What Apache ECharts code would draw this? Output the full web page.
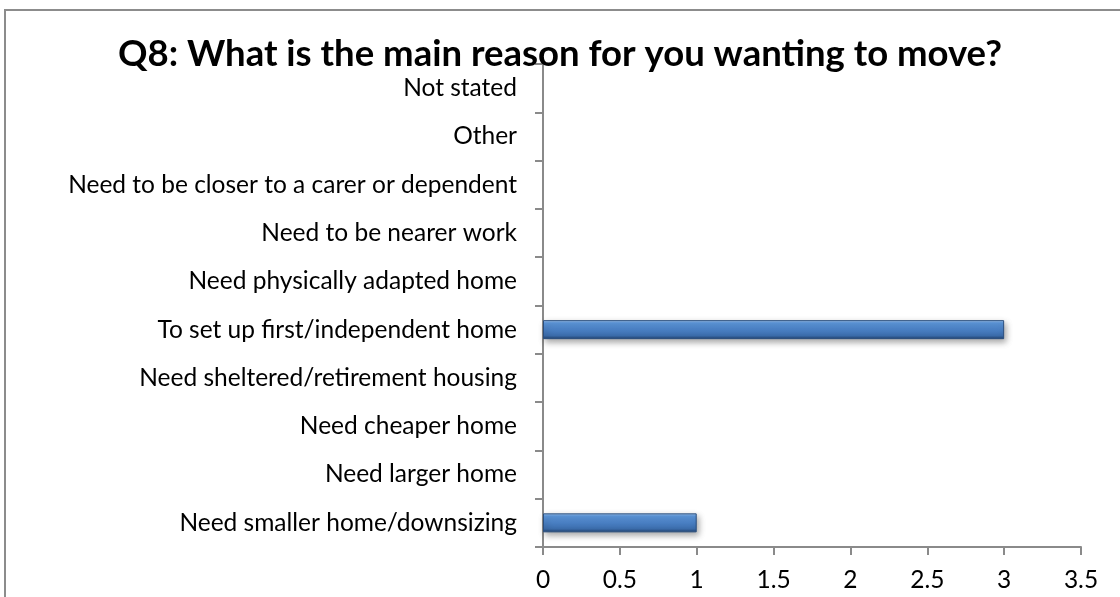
<!DOCTYPE html>
<html>
<head>
<meta charset="utf-8">
<script src="https://cdn.jsdelivr.net/npm/echarts@6/dist/echarts.min.js"></script>
<style>
  html, body { margin: 0; padding: 0; background: #fff; }
  #chart { width: 1120px; height: 597px; }
</style>
</head>
<body>
<div id="chart"></div>
<script>
// Reasons for wanting to move, listed bottom-to-top as they appear on the axis
const categories = [
  'Need smaller home/downsizing',
  'Need larger home',
  'Need cheaper home',
  'Need sheltered/retirement housing',
  'To set up first/independent home',
  'Need physically adapted home',
  'Need to be nearer work',
  'Need to be closer to a carer or dependent',
  'Other',
  'Not stated'
];
// Number of respondents giving each reason
const responses = [1, 0, 0, 0, 3, 0, 0, 0, 0, 0];
const titleText = 'Q8: What is the main reason for you wanting to move?';
const xTickLabels = ['0', '0.5', '1', '1.5', '2', '2.5', '3', '3.5'];

const FONT = 'Lato, "Open Sans", sans-serif';
const AXIS_GREY = '#8a8a8a';

// Bevelled blue fill for the bars
const barStyle = {
  color: new echarts.graphic.LinearGradient(0, 0, 0, 1, [
    { offset: 0, color: '#a9cbf2' },
    { offset: 0.14, color: '#5d97db' },
    { offset: 0.5, color: '#4a80c4' },
    { offset: 0.82, color: '#3b6cab' },
    { offset: 1, color: '#1f3f6a' }
  ]),
  borderColor: '#2a4e7e',
  borderWidth: 1,
  shadowColor: 'rgba(0,0,0,0.35)',
  shadowBlur: 6,
  shadowOffsetX: 2,
  shadowOffsetY: 3
};

// Empty categories get no outline or shadow, so nothing is drawn for them
const barData = responses.map((v) => ({
  value: v,
  itemStyle: v === 0 ? { borderWidth: 0, shadowBlur: 0, shadowOffsetX: 0, shadowOffsetY: 0, opacity: 0 } : {}
}));

const chart = echarts.init(document.getElementById('chart'), null, { renderer: 'canvas' });

chart.setOption({
  animation: false,
  backgroundColor: '#ffffff',
  title: {
    text: titleText,
    left: 'center',
    top: 31,
    textStyle: { fontFamily: FONT, fontSize: 36.5, fontWeight: 'bold', color: '#000' }
  },
  graphic: [{
    type: 'rect',
    shape: { x: 5, y: 10, width: 1200, height: 700 },
    style: { fill: 'none', stroke: '#8c8c8c', lineWidth: 2 },
    silent: true,
    z: -1
  }],
  grid: { left: 543, right: 39, top: 64, bottom: 50, containLabel: false },
  xAxis: {
    type: 'value',
    min: 0,
    max: 3.5,
    interval: 0.5,
    splitLine: { show: false },
    axisLine: { show: true, lineStyle: { color: AXIS_GREY, width: 2 } },
    axisTick: { show: true, length: 8, lineStyle: { color: AXIS_GREY, width: 2 } },
    axisLabel: {
      margin: 21,
      fontFamily: FONT,
      fontSize: 24.5,
      color: '#000',
      formatter: (v) => xTickLabels[Math.round(v / 0.5)]
    }
  },
  yAxis: {
    type: 'category',
    data: categories,
    axisLine: { show: true, lineStyle: { color: AXIS_GREY, width: 2 } },
    axisTick: { show: true, length: 8, lineStyle: { color: AXIS_GREY, width: 2 } },
    axisLabel: { margin: 26, fontFamily: FONT, fontSize: 24.5, color: '#000' }
  },
  series: [{
    type: 'bar',
    data: barData,
    barWidth: 19,
    itemStyle: barStyle
  }]
});
</script>
</body>
</html>
